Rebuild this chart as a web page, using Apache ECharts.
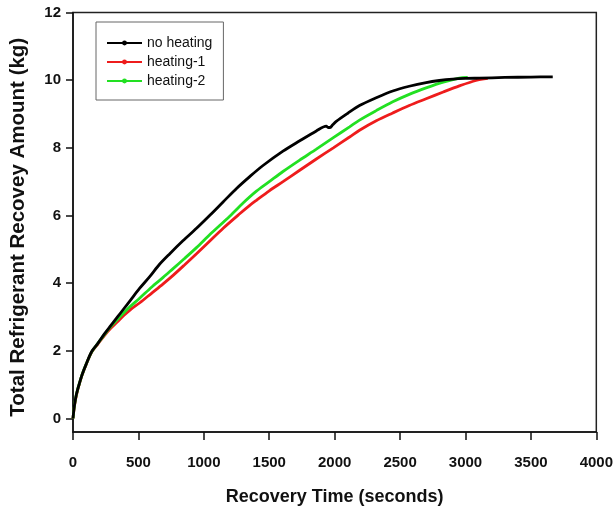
<!DOCTYPE html>
<html>
<head>
<meta charset="utf-8">
<script src="https://cdn.jsdelivr.net/npm/echarts@6/dist/echarts.min.js"></script>
<style>html,body{margin:0;padding:0;background:#fff}#c{width:616px;height:511px}</style>
</head>
<body>
<div id="c"></div>
<script>
const seriesNames = ['no heating', 'heating-1', 'heating-2'];
const xTitle = 'Recovery Time (seconds)';
const yTitle = 'Total Refrigerant Recovey Amount (kg)';
const yTicks = [0, 2, 4, 6, 8, 10, 12];

const noHeating = [[0,0],[8,0.3],[20,0.6],[35,0.85],[50,1.05],[70,1.3],[100,1.6],[143,1.98],[190,2.22],[240,2.5],[290,2.75],[340,3.0],[390,3.25],[440,3.5],[510,3.85],[588,4.2],[660,4.55],[740,4.87],[840,5.25],[944,5.62],[1050,6.02],[1147,6.4],[1250,6.8],[1351,7.15],[1450,7.47],[1605,7.9],[1730,8.2],[1860,8.5],[1936,8.64],[1950,8.6],[1965,8.6],[1985,8.68],[2012,8.78],[2100,9.02],[2190,9.25],[2318,9.48],[2444,9.68],[2570,9.82],[2699,9.93],[2800,9.99],[2902,10.03],[3000,10.05],[3105,10.06],[3300,10.08],[3500,10.09],[3667,10.1]];
const heating1 = [[0,0],[8,0.28],[20,0.57],[35,0.83],[50,1.04],[70,1.29],[100,1.59],[143,1.96],[190,2.2],[240,2.45],[290,2.67],[340,2.86],[390,3.05],[440,3.22],[511,3.42],[600,3.7],[689,3.98],[765,4.23],[850,4.53],[944,4.87],[1020,5.15],[1150,5.63],[1274,6.05],[1351,6.3],[1402,6.45],[1500,6.73],[1605,7.0],[1730,7.33],[1860,7.67],[1990,8.0],[2114,8.32],[2190,8.52],[2318,8.8],[2444,9.03],[2570,9.25],[2699,9.45],[2830,9.65],[2953,9.83],[3080,9.99],[3170,10.05]];
const heating2 = [[0,0],[8,0.3],[20,0.6],[35,0.85],[50,1.05],[70,1.3],[100,1.6],[143,1.97],[190,2.22],[240,2.48],[290,2.72],[340,2.93],[390,3.13],[435,3.3],[511,3.56],[600,3.88],[689,4.17],[765,4.43],[850,4.72],[944,5.05],[1050,5.45],[1198,5.98],[1300,6.37],[1402,6.72],[1500,7.0],[1605,7.3],[1730,7.63],[1860,7.96],[1990,8.3],[2114,8.62],[2190,8.82],[2318,9.1],[2444,9.36],[2570,9.58],[2699,9.77],[2830,9.94],[2953,10.06],[3017,10.08]];

const colors = ['#000000', '#ee1c1c', '#22e022'];
const font = 'Liberation Sans, Arial, sans-serif';

const chart = echarts.init(document.getElementById('c'), null, {renderer: 'canvas'});
function mk(name, data, color, z) {
  return {
    name, type: 'line', data, z, smooth: 0.3,
    showSymbol: false, symbol: 'circle', symbolSize: 5,
    lineStyle: {color, width: 2.8}, itemStyle: {color},
    animation: false
  };
}
chart.setOption({
  animation: false,
  backgroundColor: '#fff',
  grid: {left: 72.5, right: 19, top: 12.5, bottom: 78, show: true, borderColor: '#222', borderWidth: 1.5, backgroundColor: 'transparent'},
  legend: {
    orient: 'vertical', left: 96, top: 22,
    data: seriesNames,
    itemWidth: 35, itemHeight: 6, itemGap: 5,
    padding: [14, 11, 12, 10],
    borderColor: '#666', borderWidth: 1,
    textStyle: {fontFamily: font, fontSize: 14, color: '#111', lineHeight: 14}
  },
  xAxis: {
    type: 'value', min: 0, max: 4000, interval: 500,
    name: xTitle, nameLocation: 'middle', nameGap: 56,
    nameTextStyle: {fontFamily: font, fontSize: 18, fontWeight: 'bold', color: '#111'},
    axisLine: {show: true, onZero: false, lineStyle: {color: '#111', width: 1.5}},
    axisTick: {show: true, length: 8, lineStyle: {color: '#111', width: 1.5}},
    axisLabel: {fontFamily: font, fontSize: 15, fontWeight: 'bold', color: '#111', margin: 23, formatter: v => String(v)},
    splitLine: {show: false}
  },
  yAxis: {
    type: 'value', min: -0.4, max: 12,
    name: yTitle, nameLocation: 'middle', nameGap: 44,
    nameTextStyle: {fontFamily: font, fontSize: 20.5, fontWeight: 'bold', color: '#111', padding: [0, 10, 0, 0]},
    axisLine: {show: true, onZero: false, lineStyle: {color: '#111', width: 1.5}},
    axisTick: {show: true, length: 7, customValues: yTicks, lineStyle: {color: '#111', width: 1.5}},
    axisLabel: {fontFamily: font, fontSize: 15, fontWeight: 'bold', color: '#111', margin: 12, customValues: yTicks},
    splitLine: {show: false}
  },
  series: [
    mk(seriesNames[0], noHeating, colors[0], 3),
    mk(seriesNames[1], heating1, colors[1], 2),
    mk(seriesNames[2], heating2, colors[2], 2)
  ]
});
</script>
</body>
</html>
